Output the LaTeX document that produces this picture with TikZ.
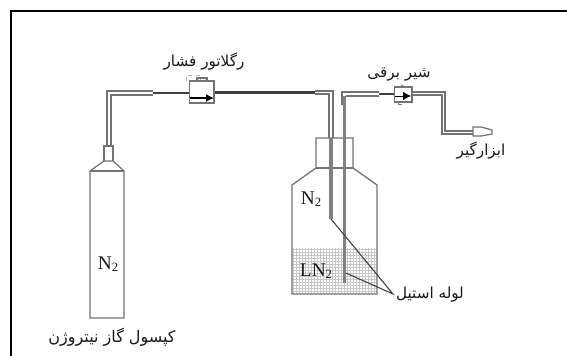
\documentclass[tikz,border=0pt]{standalone}
\usepackage{fontspec}
\setmainfont{Liberation Serif}
\newfontfamily\arabicfont[Script=Arabic]{DejaVu Sans}
\TeXXeTstate=1
\usetikzlibrary{arrows.meta}
\newcommand{\fa}[1]{{\arabicfont\beginR #1\endR}}
\newcommand{\subtwo}{\raisebox{-0.12em}{\fontsize{9.5}{10}\selectfont 2}}
\tikzset{
  x=0.75pt,y=-0.75pt,
  part/.style={draw=black!55,line width=0.95pt},
  lead/.style={draw=black!75,line width=0.8pt},
  pipe/.style={draw=black!55,line width=0.9pt},
  solidpipe/.style={draw=black!50,line width=2.9pt},
  darkpipe/.style={draw=black!75,line width=2pt},
  gridline/.style={draw=black!22,line width=0.35pt},
  lab/.style={font=\fontsize{11.4}{13}\selectfont,text=black!90,inner sep=0pt},
  chem/.style={font=\fontsize{14.5}{16}\selectfont,text=black!90,inner sep=0pt}
}
\begin{document}
\begin{tikzpicture}
\useasboundingbox (0,0) rectangle (567,356);
\fill[white] (0,0) rectangle (567,356);
% frame: open on the right and at the bottom
\draw[black,line width=1.8pt] (11,356) -- (11,11) -- (567,11);
% gas cylinder
\draw[part] (90,171) -- (104,161) -- (113,161) -- (124,171) -- (124,318) -- (90,318) -- cycle;
\draw[part] (90,171) -- (124,171);
\draw[part] (104,161) -- (104,146) -- (113,146) -- (113,161);
% pipes left
\draw[pipe] (107,146) -- (107,91) -- (153,91);
\draw[pipe] (111,146) -- (111,95) -- (153,95);
\draw[darkpipe] (153,93) -- (190,93);
\draw[darkpipe] (214,92.5) -- (315,92.5);
\draw[pipe] (315,91) -- (333,91) -- (333,138);
\draw[pipe] (315,94) -- (329,94) -- (329,138);
% liquid
\foreach \yy in {249,252,...,293} {\draw[gridline] (292,\yy) -- (377,\yy);}
\foreach \xx in {293,296,...,376} {\draw[gridline] (\xx,248) -- (\xx,294);}
% bottle
\draw[part] (292,294) -- (292,185) -- (316,168) -- (316,138) -- (353,138) -- (353,168) -- (377,185) -- (377,294) -- cycle;
\draw[part] (316,168) -- (353,168);
% inner pipes
\draw[solidpipe] (331,138) -- (331,219);
\draw[solidpipe] (344.5,96) -- (344.5,283);
\draw[pipe] (342,105) -- (342,92) -- (379,92);
\draw[pipe] (346,96) -- (379,96);
\draw[darkpipe] (379,94) -- (395,94);
% regulator
\draw[black!30,dashed,line width=0.5pt] (186,81) -- (186,75) -- (200,75) -- (200,81);
\draw[part,fill=white] (189.5,81) rectangle (214,103);
\draw[part] (197,81) -- (197,78) -- (207,78) -- (207,81);
\draw[black,line width=0.9pt,-{Latex[length=6pt,width=6pt]}] (190,98) -- (214,98);
% valve
\draw[part,fill=white] (394.5,87) rectangle (412,102);
\draw[part,line width=0.5pt] (400,87) -- (402,85) -- (405,87);
\draw[part,line width=0.5pt] (398,102) -- (398,104) -- (402,104);
\draw[black,line width=0.7pt,-{Latex[length=6pt,width=6.5pt]}] (395,96) -- (411,96);
% valve to outlet
\draw[pipe] (412,92) -- (445,92) -- (445,131) -- (473,131);
\draw[pipe] (412,95) -- (442,95) -- (442,134) -- (473,134);
\draw[part] (473,127) -- (481,127) -- (492,130) -- (492,134) -- (481,136) -- (473,136) -- cycle;
% leads
\coordinate (t1) at (331,219);
\coordinate (t2) at (346,273);
\coordinate (lt) at (393,294);
\draw[lead] (t1) -- (lt) -- (t2);
% labels
\node[chem] (n1) at (108,264) {N\subtwo};
\node[chem] (n2) at (311,199) {N\subtwo};
\node[chem] (n3) at (316,271) {LN\subtwo};
\node[lab] (l1) at (204,62) {\fa{رگلاتور فشار}};
\node[lab] (l2) at (399,75) {\fa{شیر برقی}};
\node[lab] (l3) at (481,151) {\fa{ابزارگیر}};
\node[lab] (l4) at (430,295) {\fa{لوله استیل}};
\node[lab,font=\fontsize{12}{14}\selectfont] (l5) at (112,337) {\fa{کپسول گاز نیتروژن}};
\end{tikzpicture}
\end{document}
